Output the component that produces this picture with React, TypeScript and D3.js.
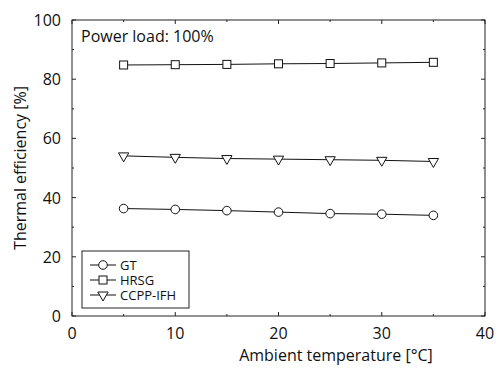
import React from "react"
import * as d3 from "d3"

const temps = [5, 10, 15, 20, 25, 30, 35]
const gtEff = [36.3, 36.0, 35.6, 35.1, 34.6, 34.4, 34.0]
const hrsgEff = [84.8, 84.9, 85.0, 85.2, 85.3, 85.5, 85.7]
const ccppEff = [54.1, 53.6, 53.2, 53.0, 52.8, 52.6, 52.2]
const xTicks = [0, 10, 20, 30, 40]
const yTicks = [0, 20, 40, 60, 80, 100]

const W = 497
const H = 369
const M = { top: 20, right: 12, bottom: 53, left: 72 }
const FONT = "'Open Sans', 'Noto Sans', sans-serif"

type Marker = "circle" | "square" | "triangle"

function MarkerShape({ kind, x, y }: { kind: Marker; x: number; y: number }) {
  const common = { fill: "white", stroke: "#111", strokeWidth: 1 }
  if (kind === "circle") return <circle cx={x} cy={y} r={4.3} {...common} />
  if (kind === "square") return <rect x={x - 4} y={y - 4} width={8} height={8} {...common} />
  const tri = d3.symbol(d3.symbolTriangle, 46)() || ""
  return <path d={tri} transform={`translate(${x},${y}) rotate(180)`} {...common} />
}

export default function App() {
  const innerW = W - M.left - M.right
  const innerH = H - M.top - M.bottom
  const x = d3.scaleLinear().domain([0, 40]).range([0, innerW])
  const y = d3.scaleLinear().domain([0, 100]).range([innerH, 0])

  const series: { name: string; values: number[]; marker: Marker }[] = [
    { name: "GT", values: gtEff, marker: "circle" },
    { name: "HRSG", values: hrsgEff, marker: "square" },
    { name: "CCPP-IFH", values: ccppEff, marker: "triangle" },
  ]

  const line = d3.line<number>().x((_, i) => x(temps[i])).y((d) => y(d))
  const xMinor = d3.range(5, 40, 10)
  const yMinor = d3.range(10, 100, 20)
  const tk = 4

  return (
    <svg width={W} height={H} style={{ position: "absolute", left: 0, top: 0, fontFamily: FONT }}>
      <rect width={W} height={H} fill="white" />
      <g transform={`translate(${M.left},${M.top})`}>
        <rect x={0} y={0} width={innerW} height={innerH} fill="none" stroke="#222" strokeWidth={1} />
        {/* ticks on all sides */}
        {xTicks.map((t) => (
          <g key={"x" + t}>
            <line x1={x(t)} x2={x(t)} y1={innerH} y2={innerH - tk} stroke="#222" />
            <line x1={x(t)} x2={x(t)} y1={0} y2={tk} stroke="#222" />
            <text x={x(t)} y={innerH + 23} textAnchor="middle" fontSize={16} fill="#111">{t}</text>
          </g>
        ))}
        {xMinor.map((t) => (
          <g key={"xm" + t}>
            <line x1={x(t)} x2={x(t)} y1={innerH} y2={innerH - 2} stroke="#222" />
            <line x1={x(t)} x2={x(t)} y1={0} y2={2} stroke="#222" />
          </g>
        ))}
        {yTicks.map((t) => (
          <g key={"y" + t}>
            <line x1={0} x2={tk} y1={y(t)} y2={y(t)} stroke="#222" />
            <line x1={innerW} x2={innerW - tk} y1={y(t)} y2={y(t)} stroke="#222" />
            <text x={-11} y={y(t) + 6} textAnchor="end" fontSize={16} fill="#111">{t}</text>
          </g>
        ))}
        {yMinor.map((t) => (
          <g key={"ym" + t}>
            <line x1={0} x2={2} y1={y(t)} y2={y(t)} stroke="#222" />
            <line x1={innerW} x2={innerW - 2} y1={y(t)} y2={y(t)} stroke="#222" />
          </g>
        ))}

        {series.map((s) => (
          <g key={s.name}>
            <path d={line(s.values) || ""} fill="none" stroke="#111" strokeWidth={1} />
            {s.values.map((v, i) => (
              <MarkerShape key={i} kind={s.marker} x={x(temps[i])} y={y(v)} />
            ))}
          </g>
        ))}

        <text x={9} y={22} fontSize={16} fill="#111">Power load: 100%</text>

        {/* legend */}
        <g transform={`translate(10,${innerH - 65})`}>
          <rect x={0} y={0} width={107} height={57} fill="white" stroke="#222" />
          {series.map((s, i) => (
            <g key={s.name} transform={`translate(0,${14 + i * 15})`}>
              <line x1={8} x2={34} y1={0} y2={0} stroke="#111" />
              <MarkerShape kind={s.marker} x={21} y={0} />
              <text x={38} y={5} fontSize={13} fill="#111">{s.name}</text>
            </g>
          ))}
        </g>
      </g>

      <text x={336} y={361} textAnchor="middle" fontSize={16} fill="#111">
        Ambient temperature [°C]
      </text>
      <text
        transform={`translate(26,${M.top + innerH / 2}) rotate(-90)`}
        textAnchor="middle"
        fontSize={16}
        fill="#111"
      >
        Thermal efficiency [%]
      </text>
    </svg>
  )
}
